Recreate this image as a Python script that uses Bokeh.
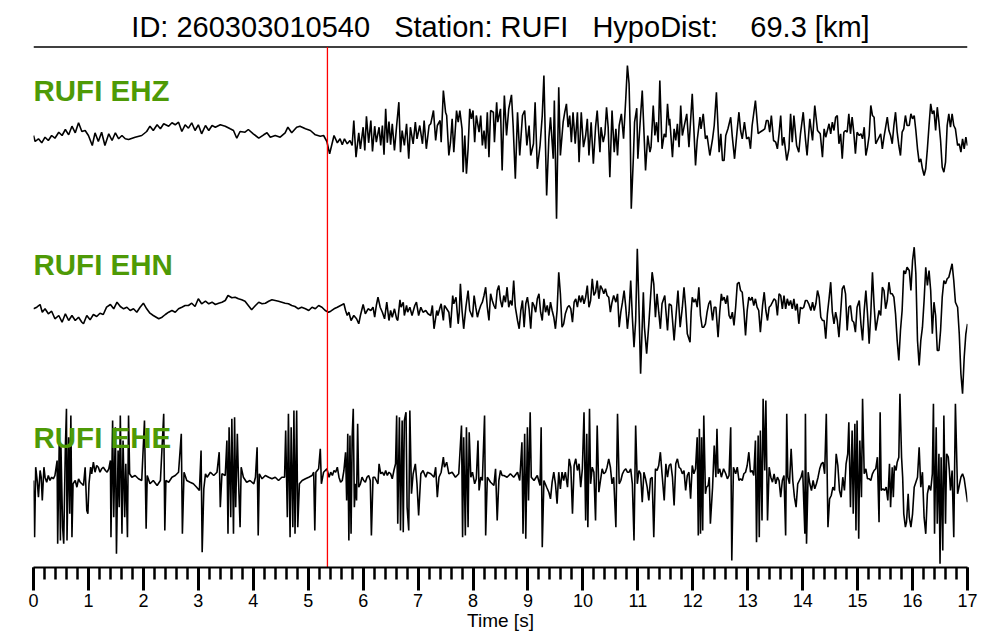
import numpy as np
from bokeh.plotting import figure
from bokeh.models import Range1d, FixedTicker
from bokeh.core.properties import value
from bokeh.embed import file_html
from bokeh.resources import INLINE

# ---------------- data ----------------
EVENT_ID = "260303010540"
STATION = "RUFI"
HYPODIST_KM = 69.3
P_PICK_S = 5.35
CHANNELS = ["EHZ", "EHN", "EHE"]
X_TICKS = list(range(0, 18))
X_MINOR = [round(0.2 * i, 1) for i in range(0, 86)]

# amplitudes are in display units (1 unit = 1 px of the original trace panel)
EHZ_T = [
    0.00,0.03,0.09,0.15,0.21,0.27,0.33,0.39,0.46,0.52,
    0.58,0.64,0.70,0.76,0.82,0.88,0.94,1.00,1.07,1.12,
    1.18,1.24,1.30,1.37,1.43,1.49,1.55,1.61,1.67,1.73,
    1.85,1.97,2.06,2.12,2.18,2.25,2.31,2.37,2.46,2.52,
    2.58,2.64,2.70,2.76,2.82,2.88,2.94,3.00,3.06,3.13,
    3.19,3.25,3.31,3.40,3.49,3.58,3.64,3.70,3.76,3.85,
    3.91,4.00,4.10,4.19,4.25,4.31,4.40,4.49,4.58,4.63,
    4.70,4.79,4.85,4.95,5.04,5.13,5.22,5.28,5.34,
    5.39,5.47,5.53,5.58,5.62,5.66,5.71,5.76,5.80,5.83,
    5.87,5.92,5.95,6.00,6.03,6.06,6.10,6.14,6.17,6.21,
    6.24,6.29,6.32,6.35,6.38,6.41,6.44,6.47,6.50,6.53,
    6.57,6.61,6.65,6.68,6.71,6.75,6.79,6.83,6.86,6.91,
    6.95,6.98,7.03,7.08,7.11,7.15,7.20,7.23,7.28,7.32,
    7.35,7.40,7.42,7.46,7.50,7.52,7.56,7.59,7.62,7.65,
    7.70,7.73,7.76,7.80,7.82,7.85,7.88,7.91,7.94,7.97,
    8.00,8.03,8.06,8.11,8.14,8.17,8.20,8.23,8.26,8.29,
    8.32,8.37,8.39,8.43,8.45,8.50,8.53,8.57,8.61,8.65,
    8.70,8.73,8.77,8.81,8.85,8.90,8.94,8.98,9.02,9.05,
    9.10,9.13,9.17,9.22,9.26,9.29,9.34,9.38,9.41,9.46,
    9.48,9.52,9.56,9.59,9.64,9.67,9.70,9.73,9.76,9.79,
    9.82,9.86,9.90,9.93,9.97,10.01,10.05,10.08,10.11,10.15,
    10.19,10.23,10.26,10.31,10.33,10.37,10.40,10.43,10.46,10.49,
    10.53,10.57,10.60,10.63,10.66,10.70,10.74,10.78,10.81,10.84,
    10.86,10.88,10.92,10.94,10.98,11.00,11.04,
    11.08,11.14,11.18,11.22,11.24,11.28,11.31,11.34,11.37,11.40,
    11.44,11.48,11.51,11.54,11.57,11.58,11.63,11.66,11.69,11.72,
    11.75,11.78,11.81,11.84,11.89,11.93,11.99,12.05,12.08,12.13,
    12.15,12.19,12.23,12.26,12.31,12.36,12.39,12.43,12.48,12.51,
    12.54,12.57,12.60,12.64,12.69,12.72,12.76,12.81,12.84,12.87,
    12.90,12.94,12.98,13.02,13.05,13.08,13.14,13.19,13.22,13.27,
    13.31,13.34,13.37,13.40,13.43,13.47,13.51,13.54,13.57,13.60,
    13.63,13.66,13.71,13.75,13.78,13.81,13.84,13.89,13.93,13.96,
    14.01,14.05,14.08,14.13,14.18,14.22,14.27,14.32,14.36,14.39,
    14.42,14.45,14.48,14.51,14.54,14.57,14.60,14.63,14.66,14.69,
    14.72,14.75,14.78,14.81,14.84,14.87,14.90,14.93,14.96,14.99,
    15.03,15.06,15.09,15.12,15.15,15.18,15.21,15.24,15.27,15.30,
    15.33,15.36,15.39,15.42,15.45,15.48,15.51,15.54,15.57,15.60,
    15.63,15.66,15.69,15.72,15.75,15.78,15.81,15.84,15.87,15.90,
    15.94,15.97,16.00,16.03,16.06,16.09,16.12,16.15,16.18,16.21,
    16.24,16.27,16.30,16.33,16.36,16.39,16.42,16.45,16.48,16.51,
    16.54,16.57,16.60,16.63,16.66,16.69,16.72,16.75,16.78,16.82,
    16.85,16.88,16.91,16.94,16.97,17.00,
]
EHZ_A = [
    2,-4,-1.3,-5.3,0.3,-3,2,-0.7,5.3,2,
    8,2.7,11.3,4.7,14.7,6,7,2,-8,4.7,
    -4,5.3,-8,3.7,-3,4.7,-1.3,2,-1.3,-2,
    0.3,2,6,11.3,7,12.7,8.7,13.7,11.3,14.7,
    12.7,15.3,6,12.7,9.3,14.7,7,12.7,3.7,12,
    7,12,10.3,12.7,11.3,8.7,7,-0.7,6,5.3,
    8,3.7,-0.7,2.7,4.7,0.3,2,0.3,4.7,10.3,
    4.7,10.3,11.3,8.7,7,2.7,1.3,2,-4,
    -16.3,2,-5.3,-1.3,-7.3,-1.3,-6.3,-3,-8,17,
    -19.7,4.7,-11.3,10.3,-13,21.3,-5.3,17,-14,11.3,
    -4.7,10.3,-8,12,-17.3,28.7,-5.3,16,-7.3,13.7,
    -13,12,35.3,-14.7,7,-8,13.7,-21.3,10.3,-6.3,
    15.3,-1.3,12,-6.3,17,-11.3,12,13.7,27,-3,
    12,17,-4.7,47,25.3,22,-18,-4.7,18.7,-14.7,
    27,15.3,27,8.7,-34.7,2,-36.3,-11.3,28.7,18.7,
    27,-4.7,22,5.3,22,-8,7,-11.3,25.3,-19.7,
    27,25.3,-4.7,35.3,15.3,28.7,-33,42,2,28.7,
    42.7,12,-41.3,25.3,-18,22,27,-8,12,-18,
    -6.3,35.3,-31.3,-8,22,62,-58,-1.3,20.3,-21.3,
    37,-81.3,50.3,-18,15.3,25.3,33.7,10.3,22,-4.7,
    25.3,-6.3,25.3,-24.7,25.3,-9.7,2,18.7,-18,15.3,
    -26.3,10.3,27,-14.7,10.3,-4.7,3.7,30.3,10.3,-39.7,
    27,-14.7,8.7,-18,12,23.7,-1.3,38.7,72,53.7,
    8.7,-71.3,-18,15.3,29.3,-21.3,13.7,
    47,-33,2,-14.7,-9.7,32,2,15.3,-4.7,57,
    -11.3,3.7,0.3,33.7,12,18.7,-19.7,8.7,-3,13.7,
    -9.7,32,2,10.3,23.7,-9.7,43.7,-28,-3,20.3,
    8.7,23.7,-1.3,2,-18,-1.3,12,45.3,-14.7,3.7,
    -23,-23,2,8.7,20.3,0.3,-21.3,8.7,25.3,7,
    -1.3,15.3,-1.3,0.3,-11.3,12,37,3.7,5.3,7,
    8.7,17,17,5.3,22,-3,-4.7,-11.3,3.7,22,
    -8,0.3,-23,-11.3,23.7,-4.7,22,-8,-14.7,3.7,
    25.3,-1.3,-18,18.7,-3,32,7,3.7,-19.7,8.7,
    0.3,7,13.7,3.7,15.3,7,20.3,22,-6.3,3.7,
    -21.3,5.3,7,5.3,23.7,3.7,20.3,5.3,-16.3,5.3,
    2,3.7,-1.3,10.3,-18,-9.7,2,32,22,20.3,
    -6.3,-3,0.3,3.7,-11.3,0.3,10.3,20.3,7,2,
    -6.3,12,25.3,5.3,-8,-18,5.3,8.7,22,12,
    12,23.7,18.7,22,7,-11.3,-24.7,-21.3,-31.3,-38,
    -31.3,-11.3,12,33.7,23.7,27,7,30.3,15.3,-3,
    -29.7,-34.7,-24.7,12,23.7,10.3,23.7,12,8.7,-8,
    -6.3,-14.7,-1.3,-11.3,0.3,-8,
]

EHN_T = [
    0.00,0.06,0.12,0.16,0.21,0.27,0.33,0.39,0.46,0.52,
    0.58,0.64,0.70,0.76,0.82,0.88,0.91,0.97,1.03,1.09,
    1.15,1.21,1.27,1.33,1.40,1.46,1.52,1.58,1.64,1.70,
    1.76,1.82,1.88,1.94,2.00,2.06,2.12,2.18,2.28,2.34,
    2.40,2.46,2.52,2.58,2.64,2.70,2.76,2.82,2.88,2.94,
    3.00,3.06,3.13,3.19,3.25,3.31,3.37,3.43,3.49,3.54,
    3.61,3.67,3.73,3.79,3.85,3.91,3.97,4.04,4.10,4.16,
    4.22,4.28,4.34,4.40,4.46,4.52,4.58,4.64,4.70,4.76,
    4.82,4.88,4.95,5.01,5.07,5.13,5.19,5.25,5.31,5.37,
    5.41,5.47,5.53,5.59,5.65,5.68,5.71,5.74,5.78,5.83,
    5.88,5.92,5.95,6.00,6.04,6.09,6.14,6.18,6.21,6.24,
    6.27,6.31,6.35,6.39,6.43,6.47,6.50,6.53,6.57,6.61,
    6.63,6.67,6.69,6.73,6.75,6.79,6.81,6.85,6.89,6.94,
    6.97,7.01,7.05,7.09,7.14,7.18,7.23,7.26,7.29,7.34,
    7.36,7.40,7.42,7.46,7.48,7.52,7.56,7.59,7.63,7.65,
    7.69,7.73,7.75,7.77,7.80,7.83,7.87,7.91,7.94,7.99,
    8.02,8.05,8.08,8.11,8.14,8.17,8.20,8.23,8.26,8.29,
    8.32,8.35,8.38,8.41,8.44,8.47,8.50,8.53,8.56,8.59,
    8.62,8.65,8.68,8.71,8.74,8.77,8.81,8.84,8.87,8.90,
    8.93,8.96,8.99,9.02,9.05,9.08,9.11,9.14,9.17,9.20,
    9.23,9.26,9.29,9.32,9.35,9.38,9.41,9.44,9.47,9.50,
    9.53,9.56,9.59,9.62,9.65,9.68,9.72,9.75,9.78,9.81,
    9.84,9.87,9.90,9.93,9.96,9.99,10.02,10.05,10.08,10.11,
    10.14,10.17,10.20,10.23,10.26,10.29,10.32,10.35,10.38,10.41,
    10.44,10.47,10.50,10.53,10.56,10.60,10.63,10.66,10.69,10.72,
    10.75,10.78,10.81,10.84,10.87,10.90,10.93,10.96,10.99,11.02,
    11.05,11.10,11.12,11.16,11.20,11.26,11.29,11.32,11.35,11.38,
    11.41,11.44,11.49,11.51,11.54,11.57,11.61,11.66,11.69,11.73,
    11.77,11.81,11.84,11.87,11.90,11.95,11.97,11.99,12.02,12.05,
    12.08,12.11,12.14,12.17,12.20,12.23,12.26,12.29,12.32,12.36,
    12.39,12.42,12.46,12.49,12.52,12.54,12.57,12.60,12.63,12.66,
    12.69,12.72,12.75,12.78,12.81,12.84,12.87,12.90,12.93,12.96,
    12.99,13.02,13.05,13.08,13.11,13.14,13.17,13.20,13.23,13.27,
    13.30,13.33,13.36,13.39,13.42,13.45,13.48,13.51,13.54,13.57,
    13.60,13.63,13.66,13.69,13.72,13.75,13.78,13.81,13.84,13.87,
    13.90,13.93,13.96,13.99,14.02,14.05,14.08,14.11,14.15,14.18,
    14.21,14.24,14.27,14.30,14.33,14.36,14.39,14.42,14.45,14.48,
    14.51,14.54,14.57,14.60,14.63,14.66,14.69,14.72,14.75,14.78,
    14.81,14.84,14.87,14.90,14.93,14.96,14.99,15.03,15.06,15.09,
    15.12,15.15,15.18,15.21,15.24,15.27,15.30,15.33,15.36,15.39,
    15.42,15.45,15.48,15.51,15.54,15.57,15.60,15.63,15.66,15.69,
    15.72,15.75,15.78,15.81,15.84,15.87,15.90,15.94,15.97,16.00,
    16.03,16.06,16.09,16.12,16.15,16.18,16.21,16.24,16.27,16.30,
    16.33,16.36,16.39,16.42,16.45,16.48,16.51,16.54,16.57,16.60,
    16.63,16.66,16.69,16.72,16.75,16.78,16.82,16.85,16.88,16.91,
    16.94,16.97,17.00,
]
EHN_A = [
    -0.3,1.3,4,-3.7,-0.3,-5.3,-2.7,-10.3,-7,-13.7,
    -5.3,-12,-7,-12,-8.7,-13.7,-15.3,-7,-11.3,-6,
    -8,-4.7,-6,1.3,4,-0.3,6.3,2,-0.3,1.3,
    -2,-0.3,-3.7,1.3,5.3,-0.3,-4.7,-7,-10.3,-8.7,
    -6,-3.7,-2,-3.7,-0.3,1.3,3,3,5.3,2,
    9.7,4.7,7.3,4.7,6.3,4,5.3,6.3,8,13,
    10.7,11.3,9.7,8.7,7.3,3,-1.3,3,6.3,4.7,
    5.3,7.3,8.7,8,7.3,6.3,5.3,4.7,3,2,
    -0.3,1.3,-0.3,-2,1.3,-0.3,3,1.3,-2,-3.7,
    -2.7,-0.3,1.3,3,4.7,-2,-7,-3.7,-12,-7,
    -10.3,-15.3,-7,4,-5.3,-0.3,-2,1.3,-8.7,3,
    11.3,1.3,-3.7,-10.3,6.3,-12,-2,-8.7,-0.3,-10.3,
    -12,8.7,1.3,6.3,-7,3,-3.7,1.3,-7,3,
    6.3,-7,1.3,-3.7,-2,-5.3,-7,3,-20.3,-2,
    -7,1.3,4.7,-12,3,-0.3,-3.7,-19.3,13,4.7,
    11.3,-15.3,-3.7,24.7,-2,-20.3,1.3,18,-2,-8.7,
    13,1.3,-8.7,-2,3,6.3,13,21.3,1.3,-12,
    14.7,8,3,-0.3,18,23,8,1.3,13,6.3,
    21.3,1.3,8,3,28,1.3,-12,-20.3,-2,8,
    -18.7,4.7,11.3,-0.3,-20.3,6.3,3,-3.7,9.7,14.7,
    -3.7,-12,9.7,-3.7,3,-7,6.3,-2,-8.7,-20.3,
    -2,36.3,14.7,-18.7,-15.3,-5.3,1.3,3,-0.3,-13.7,
    6.3,9.7,1.3,13,6.3,13,4.7,11.3,23,1.3,
    8,29.7,13,16.3,28,9.7,23,19.7,14.7,19.7,
    13,11.3,-3.7,6.3,13,6.3,14.7,-18.7,-3.7,6.3,
    18,1.3,-20.3,-3.7,28,-8.7,-38.7,-12,59.7,1.3,
    -65.3,16.3,-18.7,-45.3,-15.3,36.3,24.7,-8.7,14.7,-3.7,
    -20.3,4.7,13,-2,-22,4.7,3,-32,-10.3,18,
    -18.7,1.3,21.3,1.3,-25.3,-33.7,-3.7,11.3,6.3,9.7,
    1.3,21.3,-7,-18.7,-18.7,-15.3,-3.7,4.7,8,-12,
    1.3,1.3,-28.7,-3.7,14.7,8,11.3,4.7,13,-7,
    -10.3,-3.7,-17,1.3,24.7,26.3,18,16.3,-2,-27,
    -2,11.3,8,11.3,3,9.7,1.3,-2,-23.7,3,
    16.3,-2,-12,1.3,3,6.3,9.7,8,-7,14.7,
    13,-0.3,13,-0.3,9.7,3,8,-0.3,9.7,-2,
    4.7,-15.3,1.3,-0.3,1.3,8,8,4.7,-2,6.3,
    -2,4.7,18,11.3,-8.7,-12,-12,-30.3,-5.3,9.7,
    26.3,-3.7,-15.3,-3.7,-12,-28.7,-5.3,19.7,23,14.7,
    -22,1.3,3,-12,-13.7,-23.7,1.3,8,-15.3,-32,
    -2,18,-5.3,-35.3,-5.3,36.3,3,-22,-12,-2,
    -7,21.3,18,-0.3,8,26.3,14.7,14.7,11.3,-5.3,
    -32,-52,-22,-2,38,34.7,41.3,38,18,48,
    61.3,34.7,-32,-57,-32,-18.7,8,41.3,23,38,
    18,-25.3,6.3,-7,-42,-42,-22,11.3,28,24.7,
    29.7,31.3,38,44.7,28,6.3,1.3,-25.3,-65.3,-85.3,
    -48.7,-25.3,-15.3,
]

EHE_T = [
    0.00,0.02,0.04,0.07,0.09,0.12,0.14,0.16,0.19,0.21,
    0.24,0.27,0.30,0.33,0.36,0.39,0.43,0.44,0.47,0.49,
    0.50,0.53,0.55,0.58,0.60,0.61,0.64,0.66,0.68,0.70,
    0.72,0.76,0.79,0.82,0.85,0.88,0.91,0.94,0.97,0.99,
    1.01,1.04,1.06,1.09,1.12,1.15,1.18,1.21,1.24,1.27,
    1.31,1.34,1.37,1.40,1.41,1.44,1.46,1.49,1.51,1.54,
    1.56,1.58,1.61,1.63,1.66,1.68,1.71,1.73,1.75,1.79,
    1.85,1.91,1.97,2.02,2.05,2.07,2.12,2.18,2.25,2.31,
    2.37,2.39,2.41,2.46,2.52,2.58,2.64,2.69,2.71,2.74,
    2.79,2.85,2.91,2.97,3.02,3.05,3.07,3.10,3.13,3.16,
    3.22,3.28,3.34,3.38,3.40,3.43,3.49,3.52,3.54,3.56,
    3.59,3.61,3.64,3.66,3.68,3.71,3.73,3.76,3.78,3.82,
    3.88,3.94,4.01,4.04,4.07,4.09,4.11,4.16,4.22,4.28,
    4.34,4.40,4.46,4.52,4.57,4.59,4.62,4.64,4.67,4.69,
    4.72,4.74,4.76,4.79,4.81,4.84,4.89,4.95,5.01,5.07,
    5.10,5.12,5.14,5.19,5.22,5.24,5.28,5.31,5.34,5.38,
    5.41,5.44,5.47,5.50,5.53,5.56,5.59,5.62,5.65,5.68,
    5.70,5.72,5.74,5.76,5.78,5.80,5.82,5.84,5.86,5.88,
    5.90,5.92,5.95,5.98,6.01,6.04,6.07,6.10,6.13,6.15,
    6.18,6.21,6.24,6.27,6.29,6.32,6.35,6.38,6.41,6.44,
    6.47,6.50,6.53,6.56,6.59,6.61,6.63,6.66,6.68,6.71,
    6.73,6.75,6.78,6.80,6.83,6.85,6.88,6.91,6.95,6.98,
    7.01,7.05,7.09,7.14,7.17,7.23,7.29,7.32,7.35,7.38,
    7.42,7.46,7.48,7.52,7.56,7.62,7.68,7.74,7.79,7.81,
    7.83,7.86,7.88,7.91,7.93,7.96,7.99,8.03,8.06,8.09,
    8.11,8.14,8.17,8.21,8.23,8.26,8.32,8.38,8.41,8.44,
    8.47,8.50,8.53,8.56,8.62,8.68,8.74,8.81,8.85,8.89,
    8.91,8.94,8.96,8.99,9.01,9.04,9.06,9.11,9.17,9.22,
    9.24,9.26,9.29,9.34,9.38,9.41,9.44,9.47,9.50,9.53,
    9.56,9.59,9.62,9.65,9.68,9.72,9.75,9.78,9.81,9.84,
    9.87,9.90,9.93,9.96,9.99,10.02,10.05,10.07,10.09,10.12,
    10.14,10.17,10.20,10.23,10.26,10.29,10.32,10.35,10.38,10.41,
    10.44,10.47,10.50,10.53,10.56,10.60,10.63,10.66,10.69,10.72,
    10.75,10.78,10.81,10.84,10.87,10.90,10.93,10.96,10.99,11.02,
    11.05,11.08,11.11,11.14,11.17,11.20,11.23,11.26,11.29,11.32,
    11.35,11.38,11.41,11.44,11.48,11.51,11.54,11.57,11.60,11.63,
    11.66,11.69,11.72,11.75,11.78,11.81,11.84,11.87,11.90,11.93,
    11.96,11.99,12.02,12.05,12.08,12.10,12.12,12.14,12.16,12.18,
    12.20,12.23,12.25,12.28,12.30,12.32,12.36,12.39,12.42,12.44,
    12.46,12.49,12.52,12.56,12.60,12.63,12.66,12.69,12.71,12.74,
    12.78,12.81,12.84,12.87,12.90,12.93,12.96,12.99,13.02,13.05,
    13.08,13.11,13.14,13.16,13.19,13.21,13.23,13.26,13.28,13.31,
    13.33,13.36,13.39,13.42,13.45,13.48,13.51,13.54,13.57,13.60,
    13.63,13.66,13.69,13.71,13.73,13.76,13.79,13.82,13.85,13.88,
    13.91,13.94,13.97,14.00,14.04,14.05,14.07,14.10,14.13,14.16,
    14.19,14.22,14.25,14.28,14.31,14.34,14.37,14.40,14.43,14.46,
    14.49,14.52,14.55,14.58,14.61,14.64,14.67,14.70,14.73,14.76,
    14.79,14.82,14.84,14.87,14.90,14.92,14.95,14.97,14.99,15.02,
    15.04,15.07,15.09,15.12,15.15,15.18,15.21,15.24,15.27,15.30,
    15.33,15.36,15.39,15.41,15.43,15.46,15.49,15.52,15.55,15.58,
    15.60,15.63,15.65,15.67,15.70,15.72,15.75,15.77,15.80,15.82,
    15.84,15.87,15.89,15.92,15.94,15.97,16.00,16.03,16.06,16.09,
    16.12,16.15,16.18,16.21,16.24,16.27,16.30,16.33,16.36,16.38,
    16.40,16.43,16.45,16.48,16.50,16.52,16.55,16.57,16.60,16.62,
    16.65,16.67,16.69,16.72,16.75,16.78,16.82,16.85,16.88,16.91,
    16.94,16.97,17.00,
]
EHE_A = [
    -3,-59.7,10.3,-4.7,-19.7,7,0.3,-23,10.3,0.3,
    -4.7,2,-3,0.3,-1.3,2,17,-66.3,40.3,-63,
    30.3,-49.7,-66.3,30.3,68.7,-63,40.3,-36.3,62,-59.7,
    -6.3,-3,-9.7,-1.3,-4.7,-6.3,-8,10.3,-33,-36.3,
    -6.3,10.3,3.7,15.3,5.3,12,10.3,5.3,8.7,10.3,
    7,5.3,8.7,17,-59.7,57,-39.7,50.3,-76.3,27,
    -29.7,62,-56.3,37,-39.7,13.7,-59.7,62,3.7,0.3,
    2,-1.3,-3,57,-51.3,2,-6.3,-3,-8,-3,
    63.7,-53,-3,-4.7,0.3,2,5.3,43.7,-56.3,5.3,
    -3,-4.7,-6.3,-9.7,-13,27,-74.7,-11.3,3.7,0.3,
    5.3,2,5.3,25.3,-29.7,3.7,2,37,-56.3,50.3,
    -39.7,58.7,-56.3,60.3,-29.7,43.7,0.3,-49.7,10.3,0.3,
    -4.7,-3,-6.3,0.3,30.3,-58,3.7,-1.3,2,0.3,
    -1.3,0.3,-3,0.3,0.3,47,-39.7,63.7,-59.7,50.3,
    -49.7,67,-56.3,67,-49.7,-6.3,-3,-1.3,0.3,2,
    5.3,-53,5.3,8.7,28.7,-6.3,5.3,7,8.7,0.3,
    5.3,2,7,5.3,10.3,0.3,-4.7,-3,7,25.3,
    -23,43.7,-63,42,-56.3,40.3,68.7,-29.7,-6.3,-23,
    53.7,-9.7,-6.3,0.3,-3,-4.7,0.3,2,-3,-58,
    0.3,0.3,-3,-6.3,13.7,3.7,5.3,2,7,2,
    5.3,3.7,-1.3,7,13.7,62,-46.3,60.3,-53,57,
    -54.7,57,65.3,-29.7,-53,67,-16.3,3.7,13.7,-6.3,
    -38,3.7,7,0.3,5.3,3.7,0.3,10.3,-19.7,0.3,
    5.3,20.3,10.3,15.3,3.7,5.3,0.3,3.7,52,-59.7,
    40.3,-58,50.3,-49.7,45.3,0.3,5.3,-6.3,-1.3,37,
    -13,0.3,-3,62,-58,0.3,-4.7,-8,8.7,-43,
    -3,7,2,2,0.3,3.7,0.3,5.3,-3,35.3,
    -56.3,43.7,-61.3,50.3,-23,65.3,0.3,-3,2,-8,
    50.3,-69.7,-3,-9.7,-14.7,-21.3,-4.7,5.3,-6.3,-26.3,
    5.3,-11.3,5.3,-3,5.3,-9.7,18.7,10.3,-36.3,12,
    18.7,7,13.7,-9.7,8.7,65.3,-43,43.7,-49.7,68.7,
    -6.3,10.3,5.3,-43,52,-14.7,-3,8.7,3.7,5.3,
    10.3,18.7,10.3,-6.3,0.3,-49.7,63.7,-6.3,-3,3.7,
    7,8.7,5.3,5.3,8.7,-6.3,-63,52,-6.3,7,
    3.7,-24.7,5.3,-1.3,-9.7,-23,-1.3,0.3,-59.7,8.7,
    7,12,25.3,3.7,-23,13.7,0.3,12,13.7,0.3,
    -28,13.7,18.7,10.3,8.7,3.7,7,-13,2,5.3,
    -21.3,12,3.7,8.7,40.3,-58,48.7,-56.3,40.3,-53,
    62,-16.3,-9.7,-8,0.3,-46.3,-9.7,32,0.3,48.7,
    3.7,8.7,0.3,8.7,3.7,-1.3,2,50.3,-83,10.3,
    3.7,10.3,-3,-1.3,-3,3.7,5.3,12,25.3,5.3,
    7,2,37,-64.7,42,-59.7,47,-43,78.7,7,
    77,-43,10.3,0.3,-4.7,3.7,-6.3,0.3,-3,-19.7,
    -3,2,-58,63.7,0.3,-6.3,28.7,-3,-19.7,-29.7,
    -6.3,-3,0.3,7,-56.3,63.7,-66.3,5.3,-6.3,-13,
    -3,-11.3,-6.3,0.3,8.7,13.7,15.3,3.7,63.7,-49.7,
    -21.3,-18,-9.7,-13,23.7,12,-13,-19.7,0.3,-13,
    13.7,23.7,55.3,-29.7,47,-36.3,53.7,-53,57,-61.3,
    37,-19.7,78.7,3.7,8.7,-1.3,-1.3,-3,3.7,7,
    8.7,20.3,-44.7,65.3,-13,-11.3,-13,-9.7,-23,13.7,
    -29.7,10.3,-19.7,12,7,15.3,20.3,83.7,20.3,0.3,
    -36.3,-49.7,-44.7,-16.3,-39.7,-49.7,-36.3,-9.7,-4.7,0.3,
    30.3,-9.7,5.3,-39.7,-56.3,-16.3,-8,-13,3.7,73.7,
    -56.3,50.3,-46.3,23.7,-86.3,20.3,-73,62,-46.3,23.7,
    20.3,7,-13,7,-59.7,73.7,-16.3,-8,0.3,3.7,
    -1.3,-13,-24.7,
]

TRACES = {"EHZ": (EHZ_T, EHZ_A), "EHN": (EHN_T, EHN_A), "EHE": (EHE_T, EHE_A)}
for _k, (_t, _a) in TRACES.items():
    assert len(_t) == len(_a), (_k, len(_t), len(_a))

# ---------------- layout / style ----------------
W, H = 1000, 640
BORDER_L, BORDER_R, BORDER_T = 33, 33, 8
FRAME_H = 559                                # 1 data unit per px
BORDER_B = H - BORDER_T - FRAME_H
TRACE_BASE = {"EHZ": 430, "EHN": 259, "EHE": 90}
LABEL_Y = {"EHZ": 477.0, "EHN": 303.5, "EHE": 130.0}
HEADER_RULE_Y = 520.5
TITLE_Y = 540.5
GREEN = "#4e9a06"
FONT = "Liberation Sans"
SP = " \u00a0 "          # a run of three spaces that survives SVG whitespace collapsing
SP4 = " \u00a0\u00a0 "   # a run of four spaces

p = figure(width=W, height=H, output_backend="svg", toolbar_location=None,
           x_range=Range1d(0, 17), y_range=Range1d(0, FRAME_H),
           x_axis_location="below", y_axis_location=None,
           min_border=0, min_border_left=BORDER_L, min_border_right=BORDER_R,
           min_border_top=BORDER_T, min_border_bottom=BORDER_B)
p.outline_line_color = None
p.grid.visible = False
p.background_fill_color = "white"
p.border_fill_color = "white"

ax = p.xaxis[0]
ax.ticker = FixedTicker(ticks=X_TICKS, minor_ticks=X_MINOR)
ax.axis_line_width = 2
ax.axis_line_color = "black"
ax.major_tick_out = 23
ax.major_tick_in = 0
ax.major_tick_line_width = 3
ax.minor_tick_out = 12
ax.minor_tick_in = 0
ax.minor_tick_line_width = 2.5
ax.major_label_text_font = FONT
ax.major_label_text_font_size = "18px"
ax.major_label_text_color = "black"
ax.major_label_standoff = 3
ax.axis_label = "Time [s]"
ax.axis_label_text_font = FONT
ax.axis_label_text_font_size = "19px"
ax.axis_label_text_font_style = "normal"
ax.axis_label_text_color = "black"
ax.axis_label_standoff = 0

# header
title_text = f"ID: {EVENT_ID}{SP}Station: {STATION}{SP}HypoDist:{SP4}{HYPODIST_KM:.1f} [km]"
p.text(x=[8.5], y=[TITLE_Y], text=[title_text], text_align="center",
       text_baseline="alphabetic", text_font=value(FONT),
       text_font_size="29px", text_color="black")
p.segment(x0=[0], y0=[HEADER_RULE_Y], x1=[17], y1=[HEADER_RULE_Y],
          line_color="black", line_width=1.5)

# traces
for ch in CHANNELS:
    t, a = TRACES[ch]
    y = TRACE_BASE[ch] + np.asarray(a, dtype=float)
    p.line(x=np.asarray(t, dtype=float), y=y, line_color="black", line_width=1.6)

# P pick
p.segment(x0=[P_PICK_S], y0=[0], x1=[P_PICK_S], y1=[HEADER_RULE_Y],
          line_color="#ff0000", line_width=1.3)

# channel labels
for ch in CHANNELS:
    p.text(x=[0], y=[LABEL_Y[ch]], text=[f"{STATION} {ch}"],
           text_align="left", text_baseline="alphabetic",
           text_font=value(FONT), text_font_style="bold",
           text_font_size="29.5px", text_color=GREEN)

open("out.html", "w").write(file_html(p, INLINE))
